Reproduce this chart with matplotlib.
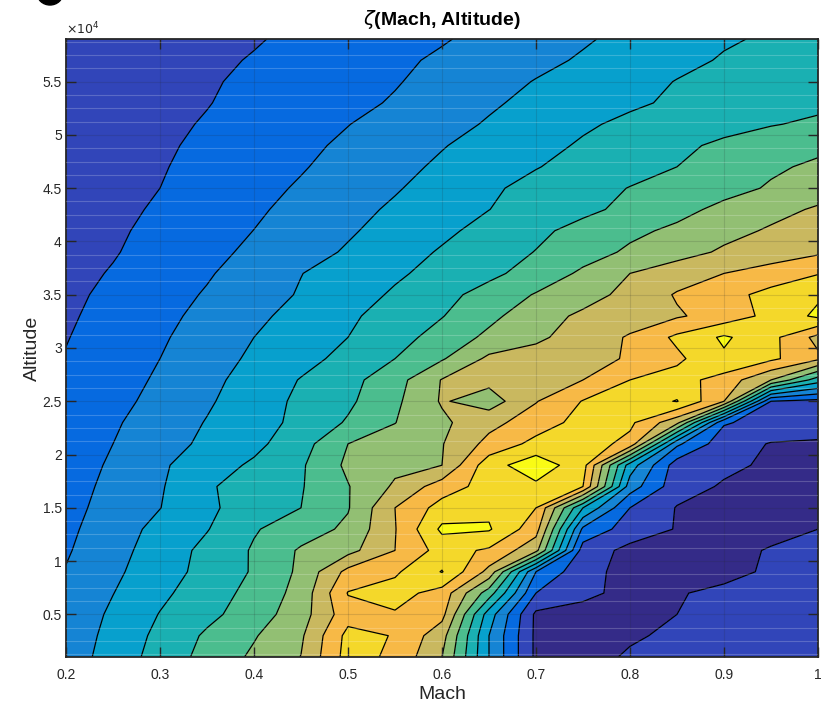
import numpy as np
import matplotlib
matplotlib.use("Agg")
import matplotlib.pyplot as plt
import matplotlib.ticker as ticker
from matplotlib.patches import Ellipse

plt.rcParams["font.family"] = ["Liberation Sans", "DejaVu Sans"]

# ── Grid ────────────────────────────────────────────────────────────────────
mach = [0.20, 0.25, 0.30, 0.35, 0.40, 0.45, 0.50, 0.55, 0.60,
        0.65, 0.70, 0.75, 0.80, 0.85, 0.90, 0.95, 1.00]
altitude = [1000, 3000, 5000, 7000, 9000, 11000, 13000, 15000, 17000, 19000,
            21000, 23000, 25000, 27000, 29000, 31000, 33000, 35000, 37000, 39000,
            41000, 43000, 45000, 47000, 49000, 51000, 53000, 55000, 57000, 59000]

# zeta, one row per altitude (bottom to top), one value per Mach column
zeta = [
    [3.47, 4.42, 5.39, 6.33, 7.17, 8.02, 10.4, 9.8, 8.0, 4.0, 0.8, 0.7, 1.1, 1.2, 1.2, 1.2, 1.2],
    [3.4, 4.3, 5.25, 6.15, 6.92, 7.85, 10.3, 9.95, 8.4, 4.0, 0.8, 0.7, 0.9, 1.15, 1.2, 1.2, 1.2],
    [3.3, 4.17, 5.04, 5.74, 6.5, 7.56, 9.6, 9.9, 9.3, 4.5, 0.8, 0.7, 0.75, 1.0, 1.2, 1.2, 1.2],
    [3.2, 3.98, 4.79, 5.53, 6.3, 7.35, 10.05, 10.4, 9.6, 6.5, 2.0, 1.2, 0.75, 0.95, 1.15, 1.2, 1.2],
    [3.05, 3.8, 4.58, 5.3, 6.1, 7.2, 9.3, 9.85, 11.05, 8.7, 3.0, 1.3, 0.7, 0.65, 0.8, 1.1, 1.2],
    [2.9, 3.67, 4.43, 5.27, 6.1, 7.13, 7.67, 9.0, 10.4, 9.85, 8.3, 1.5, 0.75, 0.7, 0.8, 1.05, 1.2],
    [2.8, 3.5, 4.3, 4.95, 5.92, 6.5, 7.2, 8.95, 11.2, 11.1, 9.4, 2.8, 1.5, 0.95, 0.75, 0.8, 1.0],
    [2.7, 3.35, 3.98, 4.83, 5.44, 6.0, 6.93, 9.0, 10.4, 10.8, 10.0, 5.0, 2.0, 0.95, 0.8, 0.75, 0.8],
    [2.6, 3.25, 3.9, 4.88, 5.45, 5.93, 6.95, 8.15, 9.5, 10.4, 10.8, 10.0, 3.5, 1.4, 0.9, 0.8, 0.8],
    [2.45, 3.15, 3.85, 4.55, 5.15, 5.87, 7.2, 7.75, 8.0, 10.6, 11.6, 10.4, 4.5, 1.5, 1.2, 0.85, 0.8],
    [2.35, 3.0, 3.6, 4.2, 4.75, 5.6, 7.0, 7.4, 7.95, 9.3, 10.3, 10.5, 9.7, 3.2, 1.4, 0.95, 0.9],
    [2.25, 2.88, 3.47, 4.05, 4.53, 5.3, 6.1, 6.98, 7.8, 8.7, 9.5, 10.35, 10.2, 8.3, 2.1, 1.6, 1.4],
    [2.15, 2.7, 3.3, 3.88, 4.52, 5.2, 5.82, 6.8, 8.1, 7.5, 8.95, 10.05, 10.5, 11.05, 9.0, 2.0, 1.7],
    [2.1, 2.55, 3.15, 3.74, 4.38, 5.05, 5.68, 6.61, 8.05, 8.3, 8.55, 9.0, 10.0, 10.4, 9.6, 8.0, 5.5],
    [2.05, 2.5, 3.0, 3.59, 4.16, 4.68, 5.29, 6.0, 6.9, 8.2, 8.4, 8.65, 9.1, 9.8, 10.85, 10.2, 9.2],
    [1.96, 2.42, 2.88, 3.43, 4.0, 4.5, 5.0, 5.63, 6.38, 7.22, 7.82, 8.44, 9.1, 10.2, 11.15, 10.3, 8.7],
    [1.87, 2.32, 2.77, 3.24, 3.73, 4.42, 4.84, 5.4, 5.96, 6.75, 7.59, 8.18, 8.54, 8.89, 9.41, 10.3, 11.2],
    [1.8, 2.2, 2.63, 3.08, 3.58, 4.08, 4.59, 5.12, 5.71, 6.36, 7.07, 7.62, 8.28, 9.09, 9.66, 10.3, 10.85],
    [1.74, 2.06, 2.48, 2.91, 3.43, 3.98, 4.42, 4.86, 5.31, 5.78, 6.39, 7.17, 8.0, 8.5, 9.0, 9.45, 9.95],
    [1.68, 1.94, 2.32, 2.75, 3.18, 3.64, 4.1, 4.6, 5.09, 5.56, 6.03, 6.6, 7.15, 7.65, 8.13, 8.45, 8.85],
    [1.63, 1.88, 2.2, 2.61, 3.01, 3.45, 3.89, 4.35, 4.81, 5.3, 5.8, 6.3, 6.8, 7.18, 7.73, 8.1, 8.3],
    [1.58, 1.82, 2.09, 2.48, 2.86, 3.28, 3.71, 4.14, 4.58, 4.99, 5.39, 5.79, 6.23, 6.72, 7.23, 7.74, 8.1],
    [1.54, 1.77, 2.0, 2.36, 2.72, 3.10, 3.51, 3.92, 4.38, 4.86, 5.27, 5.65, 6.03, 6.37, 6.70, 7.09, 7.6],
    [1.5, 1.72, 1.94, 2.25, 2.59, 2.93, 3.33, 3.74, 4.15, 4.55, 4.96, 5.31, 5.66, 6.0, 6.43, 6.87, 7.15],
    [1.46, 1.67, 1.89, 2.15, 2.48, 2.80, 3.16, 3.56, 3.95, 4.34, 4.73, 5.10, 5.45, 5.80, 6.18, 6.49, 6.8],
    [1.42, 1.63, 1.83, 2.06, 2.36, 2.67, 2.98, 3.34, 3.71, 4.08, 4.48, 4.88, 5.18, 5.44, 5.69, 5.95, 6.15],
    [1.38, 1.58, 1.77, 1.97, 2.23, 2.51, 2.78, 3.08, 3.48, 3.88, 4.23, 4.55, 4.87, 5.13, 5.36, 5.58, 5.8],
    [1.34, 1.53, 1.72, 1.92, 2.15, 2.41, 2.67, 2.94, 3.29, 3.67, 4.04, 4.37, 4.70, 5.03, 5.19, 5.4, 5.6],
    [1.3, 1.48, 1.67, 1.85, 2.05, 2.32, 2.58, 2.84, 3.13, 3.45, 3.77, 4.10, 4.44, 4.78, 5.07, 5.26, 5.45],
    [1.26, 1.43, 1.6, 1.77, 1.94, 2.16, 2.42, 2.67, 2.93, 3.24, 3.57, 3.90, 4.24, 4.57, 4.91, 5.1, 5.3],
]

levels = list(range(0, 13))
band_colors = ["#342b88", "#3145b9", "#066ae0", "#1584d4", "#07a0cd", "#1ab0b2",
               "#4bbd8e", "#92bf73", "#c9b85f", "#f7b946", "#f4d82a", "#f9fb15"]

xticks = [0.2, 0.3, 0.4, 0.5, 0.6, 0.7, 0.8, 0.9, 1.0]
xticklabels = ["0.2", "0.3", "0.4", "0.5", "0.6", "0.7", "0.8", "0.9", "1"]
yticks = [5000, 10000, 15000, 20000, 25000, 30000, 35000, 40000, 45000, 50000, 55000]
yticklabels = ["0.5", "1", "1.5", "2", "2.5", "3", "3.5", "4", "4.5", "5", "5.5"]

# ── Plot ────────────────────────────────────────────────────────────────────
fig = plt.figure(figsize=(8.23, 7.06), dpi=100)
ax = fig.add_axes([0.0802, 0.0694, 0.9137, 0.8754])

M, A = np.meshgrid(mach, altitude)
Z = np.array(zeta)
ax.contourf(M, A, Z, levels=levels, colors=band_colors)
ax.contour(M, A, Z, levels=levels[1:-1], colors="k", linewidths=0.9)

ax.set_xlim(0.2, 1.0)
ax.set_ylim(1000, 59000)
ax.set_xticks(xticks)
ax.set_xticklabels(xticklabels)
ax.set_yticks(yticks)
ax.set_yticklabels(yticklabels)
ax.yaxis.set_minor_locator(ticker.MultipleLocator(1250))

ax.grid(True, which="major", color="#262626", alpha=0.15, linewidth=0.8)
ax.grid(True, which="minor", axis="y", color="white", alpha=0.2, linewidth=0.8)
ax.set_axisbelow(False)
ax.tick_params(which="major", direction="in", length=7, width=1.0, top=True, right=True,
               labelsize=10, colors="#262626")
ax.tick_params(axis="x", pad=8)
ax.tick_params(axis="y", pad=3)
ax.tick_params(which="minor", length=0)
for s in ax.spines.values():
    s.set_linewidth(1.3)
    s.set_color("#262626")

ax.set_xlabel("Mach", fontsize=14, color="#262626", labelpad=3)
ax.set_ylabel("Altitude", fontsize=14, color="#262626", labelpad=1)
ax.set_title(r"$\zeta$(Mach, Altitude)", fontsize=14, fontweight="bold", pad=10)
ax.text(0.0, 1.002, r"$\times10^{4}$", transform=ax.transAxes, fontsize=9,
        color="#262626", ha="left", va="bottom")

# clipped panel mark at the very top-left corner
fig.patches.append(Ellipse((50 / 823, 1 + 7 / 706), 26 / 823, 24 / 706,
                           transform=fig.transFigure, color="black"))

fig.savefig("out.png")
